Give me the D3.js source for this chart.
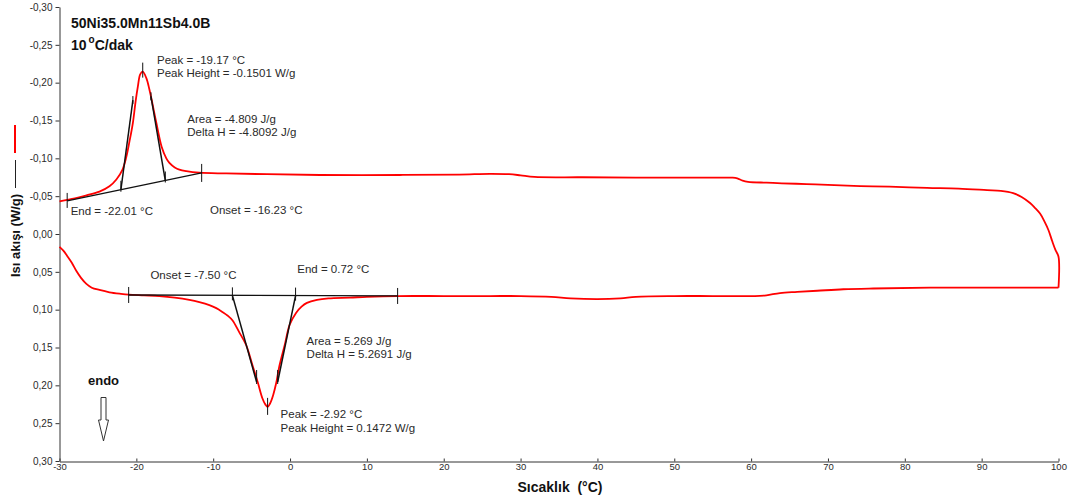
<!DOCTYPE html>
<html>
<head>
<meta charset="utf-8">
<script src="https://cdn.jsdelivr.net/npm/d3@7"></script>
<style>
  html, body { margin: 0; padding: 0; background: #fff; }
  svg { display: block; font-family: "Liberation Sans", Arial, sans-serif; }
</style>
</head>
<body>
<svg id="chart" width="1075" height="504"></svg>
<script>
// ---- DSC data: heat flow (W/g) vs temperature (°C) ----
// Heating run (endothermic peak, plotted downward)
const heatTemp = [-30.0, -29.5, -29.0, -28.4, -27.8, -27.2, -26.5, -25.8, -24.8, -23.5,
  -22.0, -21.0, -19.0, -17.0, -15.0, -13.1, -11.8, -10.5, -9.6, -8.8,
  -8.1, -7.5, -6.6, -5.7, -4.9, -4.2, -3.6, -3.2, -2.92, -2.6,
  -2.2, -1.8, -1.4, -0.7, -0.05, 0.8, 1.5, 2.2, 3.5, 5.0,
  7.8, 10.0, 14.0, 20.0, 26.0, 30.0, 34.0, 36.5, 40.0, 43.0,
  45.0, 50.0, 55.0, 60.5, 62.0, 63.75, 66.0, 68.6, 72.0, 75.9,
  83.3, 100.0];
const heatFlow = [0.017, 0.022, 0.029, 0.038, 0.049, 0.058, 0.066, 0.071, 0.074, 0.077,
  0.079, 0.080, 0.081, 0.082, 0.084, 0.087, 0.090, 0.094, 0.098, 0.103,
  0.108, 0.114, 0.130, 0.147, 0.173, 0.196, 0.217, 0.2255, 0.2285, 0.224,
  0.213, 0.197, 0.175, 0.147, 0.120, 0.104, 0.096, 0.091, 0.087, 0.085,
  0.084, 0.083, 0.082, 0.082, 0.082, 0.082, 0.083, 0.085, 0.086, 0.085,
  0.083, 0.082, 0.082, 0.082, 0.081, 0.078, 0.0765, 0.075, 0.073, 0.072,
  0.071, 0.071];

// Cooling run (exothermic peak, plotted upward), from 100 °C back down
const coolTemp = [100.0, 100.0, 99.6, 99.2, 98.7, 98.2, 97.6, 96.9, 96.3, 95.2,
  94.1, 92.5, 90.7, 87.0, 82.9, 78.0, 74.2, 70.0, 67.2, 64.0,
  62.0, 59.6, 58.9, 58.2, 57.6, 53.3, 45.0, 38.0, 31.8, 30.0,
  28.5, 26.0, 22.0, 14.3, 3.9, -3.0, -8.3, -11.8, -13.5, -14.4,
  -15.0, -15.7, -16.1, -16.7, -17.4, -17.9, -18.3, -18.7, -19.17, -19.5,
  -19.8, -20.1, -20.45, -20.9, -21.3, -21.8, -22.6, -23.5, -24.8, -26.5,
  -28.0, -30.0];
const coolFlow = [0.071, 0.030, 0.021, 0.010, -0.005, -0.016, -0.027, -0.035, -0.041, -0.049,
  -0.054, -0.057, -0.058, -0.060, -0.061, -0.0625, -0.0634, -0.065, -0.066, -0.067,
  -0.0678, -0.069, -0.0705, -0.0735, -0.0744, -0.0744, -0.0746, -0.0750, -0.0754, -0.0775,
  -0.0790, -0.0795, -0.0785, -0.078, -0.078, -0.079, -0.080, -0.081, -0.083, -0.085,
  -0.088, -0.094, -0.100, -0.115, -0.147, -0.172, -0.191, -0.206, -0.2146, -0.211,
  -0.195, -0.175, -0.147, -0.122, -0.102, -0.085, -0.072, -0.063, -0.056, -0.051,
  -0.047, -0.043];

// Axis ticks
const xTicks = [-30, -20, -10, 0, 10, 20, 30, 40, 50, 60, 70, 80, 90, 100];
const yTicks = [-0.30, -0.25, -0.20, -0.15, -0.10, -0.05, 0.00, 0.05, 0.10, 0.15, 0.20, 0.25, 0.30];

// Peak analysis, cooling peak
const coolBaseTemp = [-29.0, -11.5];
const coolBaseFlow = [-0.0437, -0.0807];
const coolOnset = -16.23;
const coolEnd = -22.01;
const coolPeakTemp = -19.17;
const coolPeakHeight = -0.1501;
const coolArea = -4.809;
const coolDeltaH = -4.8092;
const coolTangentTopTemp = [-20.45, -18.1];
const coolTangentTopFlow = [-0.177, -0.182];

// Peak analysis, heating peak
const heatBaseTemp = [-21.0, 14.0];
const heatBaseFlow = [0.0806, 0.0819];
const heatOnset = -7.50;
const heatEnd = 0.72;
const heatPeakTemp = -2.92;
const heatPeakHeight = 0.1472;
const heatArea = 5.269;
const heatDeltaH = 5.2691;
const heatTangentTopTemp = [-4.35, -1.61];
const heatTangentTopFlow = [0.1956, 0.1956];

// ---- layout ----
const svg = d3.select("#chart");
const x = d3.scaleLinear().domain([-30, 100]).range([59.5, 1058.5]);
const y = d3.scaleLinear().domain([-0.30, 0.30]).range([7, 461]);

const loc = d3.formatLocale({ decimal: ",", thousands: ".", grouping: [3], currency: ["", ""], minus: "-" });
const fmtY = loc.format(".2f");

const axisColor = "#333";
const inkColor = "#111";
const textColor = "#2a2a2a";

// Y axis
const gy = svg.append("g")
  .attr("transform", "translate(59.5,0)")
  .call(d3.axisLeft(y).tickValues(yTicks).tickFormat(fmtY).tickSizeInner(4).tickSizeOuter(0).tickPadding(3));
gy.select(".domain").attr("stroke", axisColor);
gy.selectAll(".tick line").attr("stroke", axisColor);
gy.selectAll(".tick text").attr("fill", textColor).style("font-size", "10px").style("font-family", "Liberation Sans, Arial, sans-serif");

// X axis
const gx = svg.append("g")
  .attr("transform", "translate(0,461.5)")
  .call(d3.axisBottom(x).tickValues(xTicks).tickFormat(loc.format("d")).tickSizeInner(-3).tickSizeOuter(0).tickPadding(1.5));
gx.select(".domain").attr("stroke", axisColor);
gx.selectAll(".tick line").attr("stroke", axisColor);
gx.selectAll(".tick text").attr("fill", textColor).style("font-size", "9.5px").style("font-family", "Liberation Sans, Arial, sans-serif");

// Axis titles
svg.append("text")
  .attr("x", 560).attr("y", 492)
  .attr("text-anchor", "middle")
  .style("font-size", "14px").style("font-weight", "bold").style("white-space", "pre")
  .attr("fill", "#111")
  .text("Sıcaklık  (°C)");

svg.append("text")
  .attr("transform", "translate(19.5,277) rotate(-90)")
  .attr("text-anchor", "start")
  .style("font-size", "13px").style("font-weight", "bold")
  .attr("fill", "#111")
  .text("Isı akışı (W/g)");

// Series key next to the y title
svg.append("line").attr("x1", 15).attr("x2", 15).attr("y1", 125).attr("y2", 153)
  .attr("stroke", "#ff0000").attr("stroke-width", 2);
svg.append("line").attr("x1", 15.5).attr("x2", 15.5).attr("y1", 160).attr("y2", 188)
  .attr("stroke", "#222").attr("stroke-width", 1);

// Title
svg.append("text").attr("x", 71).attr("y", 28)
  .style("font-size", "14px").style("font-weight", "bold").attr("fill", "#111")
  .text("50Ni35.0Mn11Sb4.0B");
const rate = svg.append("text").attr("x", 71).attr("y", 49.5)
  .style("font-size", "14px").style("font-weight", "bold").attr("fill", "#111");
rate.append("tspan").text("10");
rate.append("tspan").attr("dx", 2).attr("dy", -7).style("font-size", "10px").text("o");
rate.append("tspan").attr("dy", 7).text("C/dak");

// Curves
const line = d3.line().x(d => x(d[0])).y(d => y(d[1])).curve(d3.curveCatmullRom.alpha(0.5));
const heatPts = heatTemp.map((t, i) => [t, heatFlow[i]]);
const coolPts = coolTemp.map((t, i) => [t, coolFlow[i]]);
svg.append("path").attr("d", line(heatPts)).attr("fill", "none")
  .attr("stroke", "#ff0000").attr("stroke-width", 1.8).attr("stroke-linejoin", "round");
svg.append("path").attr("d", line(coolPts)).attr("fill", "none")
  .attr("stroke", "#ff0000").attr("stroke-width", 1.8).attr("stroke-linejoin", "round");

// ---- peak analysis overlays ----
function baseAt(bt, bf, t) {
  return bf[0] + (t - bt[0]) / (bt[1] - bt[0]) * (bf[1] - bf[0]);
}
function seg(x1, y1, x2, y2, w) {
  svg.append("line").attr("x1", x1).attr("y1", y1).attr("x2", x2).attr("y2", y2)
    .attr("stroke", inkColor).attr("stroke-width", w || 1.2);
}
function vtick(t, v, up, down) {
  const px = x(t), py = y(v);
  seg(px, py - up, px, py + down, 1);
}
function label(px, py, lines) {
  const tx = svg.append("text").attr("x", px).attr("y", py)
    .style("font-size", "11.5px").attr("fill", textColor);
  lines.forEach((s, i) => tx.append("tspan").attr("x", px).attr("dy", i === 0 ? 0 : 13.5).text(s));
}
const f2 = loc.format(".2f"), f3 = loc.format(".3f"), f4 = loc.format(".4f");
const dot = s => s.replace(",", ".");

// Cooling peak
{
  const bt = coolBaseTemp, bf = coolBaseFlow;
  seg(x(bt[0]), y(bf[0]), x(bt[1]), y(bf[1]), 1.3);
  vtick(bt[0], bf[0], 8, 7);
  vtick(bt[1], bf[1], 9, 9);
  const onV = baseAt(bt, bf, coolOnset), endV = baseAt(bt, bf, coolEnd);
  seg(x(coolEnd), y(endV), x(coolTangentTopTemp[0]), y(coolTangentTopFlow[0]), 1.5);
  seg(x(coolOnset), y(onV), x(coolTangentTopTemp[1]), y(coolTangentTopFlow[1]), 1.5);
  vtick(coolEnd, endV, 9, 2);
  vtick(coolOnset, onV, 9, 2);
  vtick(coolTangentTopTemp[0], coolTangentTopFlow[0], 4, 4);
  vtick(coolTangentTopTemp[1], coolTangentTopFlow[1], 4, 4);
  const pkV = baseAt(bt, bf, coolPeakTemp) + coolPeakHeight;
  vtick(coolPeakTemp, pkV, 9, 6);

  label(x(coolPeakTemp) + 14.3, y(pkV) - 8,
    ["Peak = " + dot(f2(coolPeakTemp)) + " °C", "Peak Height = " + dot(f4(coolPeakHeight)) + " W/g"]);
  label(x(coolPeakTemp) + 44.6, y(pkV) + 51,
    ["Area = " + dot(f3(coolArea)) + " J/g", "Delta H = " + dot(f4(coolDeltaH)) + " J/g"]);
  label(x(bt[0]) + 3.5, y(bf[0]) + 14, ["End = " + dot(f2(coolEnd)) + " °C"]);
  label(x(coolOnset) + 44.7, y(onV) + 33.5, ["Onset = " + dot(f2(coolOnset)) + " °C"]);
}

// Heating peak
{
  const bt = heatBaseTemp, bf = heatBaseFlow;
  seg(x(bt[0]), y(bf[0]), x(bt[1]), y(bf[1]), 1.3);
  vtick(bt[0], bf[0], 8, 8);
  vtick(bt[1], bf[1], 8, 8);
  const onV = baseAt(bt, bf, heatOnset), endV = baseAt(bt, bf, heatEnd);
  seg(x(heatOnset), y(onV), x(heatTangentTopTemp[0]), y(heatTangentTopFlow[0]), 1.5);
  seg(x(heatEnd), y(endV), x(heatTangentTopTemp[1]), y(heatTangentTopFlow[1]), 1.5);
  vtick(heatOnset, onV, 8, 5);
  vtick(heatEnd, endV, 8, 5);
  vtick(heatTangentTopTemp[0], heatTangentTopFlow[0], 12, 2);
  vtick(heatTangentTopTemp[1], heatTangentTopFlow[1], 12, 2);
  const pkV = baseAt(bt, bf, heatPeakTemp) + heatPeakHeight;
  vtick(heatPeakTemp, pkV, 9, 8);

  label(x(heatOnset) - 82, y(onV) - 16, ["Onset = " + dot(f2(heatOnset)) + " °C"]);
  label(x(heatEnd) + 1.7, y(endV) - 22.6, ["End = " + dot(f2(heatEnd)) + " °C"]);
  label(x(heatPeakTemp) + 39, y(pkV) - 62,
    ["Area = " + dot(f3(heatArea)) + " J/g", "Delta H = " + dot(f4(heatDeltaH)) + " J/g"]);
  label(x(heatPeakTemp) + 13, y(pkV) + 11.4,
    ["Peak = " + dot(f2(heatPeakTemp)) + " °C", "Peak Height = " + dot(f4(heatPeakHeight)) + " W/g"]);
}

// Endotherm direction marker
svg.append("text").attr("x", 88).attr("y", 385)
  .style("font-size", "13px").style("font-weight", "bold").attr("fill", "#111")
  .text("endo");
svg.append("path")
  .attr("d", "M101,397.5 L106,397.5 L106,420 L108.5,420 L103.5,441 L98.5,420 L101,420 Z")
  .attr("fill", "#fff").attr("stroke", "#333").attr("stroke-width", 1);
</script>
</body>
</html>
